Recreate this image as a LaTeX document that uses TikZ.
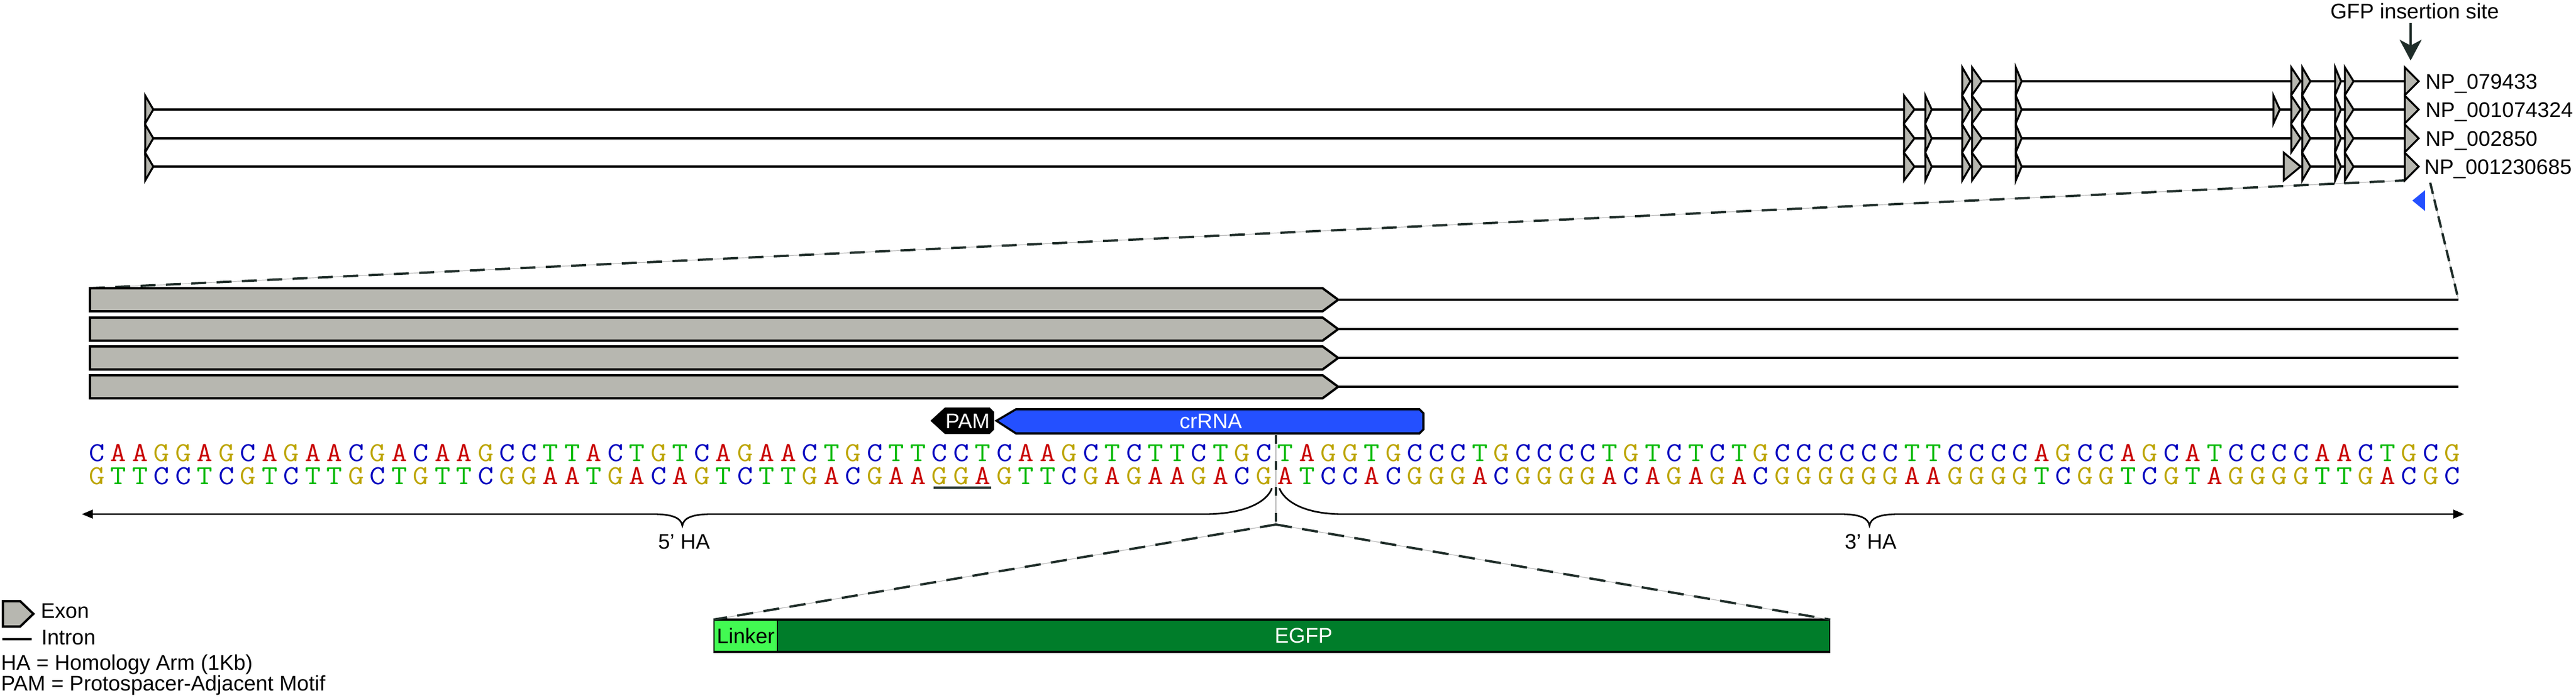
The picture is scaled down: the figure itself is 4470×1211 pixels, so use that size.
\documentclass[tikz,border=0pt]{standalone}
\usepackage{fontspec}
\setmainfont{Liberation Sans}
\usepackage{graphicx}
\usetikzlibrary{arrows.meta}
\definecolor{exongray}{RGB}{183,183,176}
\definecolor{dkline}{RGB}{31,45,41}
\definecolor{crblue}{RGB}{36,80,255}
\definecolor{linkergreen}{RGB}{66,250,82}
\definecolor{egfpgreen}{RGB}{0,125,42}
\definecolor{seqA}{RGB}{200,0,0}
\definecolor{seqC}{RGB}{0,0,190}
\definecolor{seqG}{RGB}{188,164,0}
\definecolor{seqT}{RGB}{0,185,0}
\newcommand{\exontri}[3]{\draw[exon] (#1,#3-24) -- (#2,#3) -- (#1,#3+24) -- cycle;}
\begin{document}
\begin{tikzpicture}[x=0.25pt, y=-0.25pt,
  lbl/.style={font=\fontsize{9.2}{11}\selectfont, inner sep=0pt},
  seq/.style={font=\ttfamily\fontsize{11.9}{12}\selectfont, inner sep=0pt, anchor=base},
  exon/.style={fill=exongray, draw=black, line width=0.85pt},
  intron/.style={draw=black, line width=1pt},
  zl/.style={draw=dkline, line width=1pt, dash pattern=on 6.5pt off 4.5pt,
             preaction={draw=gray!55, line width=0.3pt, solid}},
  zlv/.style={zl, dash pattern=on 3.75pt off 7.5pt},
  brace/.style={draw=black, line width=0.7pt},
  tipL/.style={-{Triangle[length=4.75pt, width=3.75pt]}}]
\useasboundingbox (0,0) rectangle (4470,1211);

% ---------- top gene model ----------
\node[lbl, anchor=base] (gfp) at (4190,32) {GFP insertion site};
\coordinate (gfpstart) at (4183,40);
\coordinate (ins) at (4183,105);
\draw[draw=dkline, line width=1pt, -{Stealth[length=9pt, width=9.5pt, inset=2.5pt]}] (gfpstart) -- (ins);

% zoom lines from gene model to middle section
\coordinate (zlA) at (4173,313);
\coordinate (zlB) at (156,500);
\coordinate (zlC) at (4217,317);
\coordinate (zlD) at (4266,520);
\draw[zl] (zlB) -- (zlA);
\draw[zl, dash pattern=on 5pt off 2.5pt] (zlC) -- (zlD);
\fill[crblue] (4186,348) -- (4208,330) -- (4208,366) -- cycle;

% introns
\draw[intron] (3405,141) -- (4173,141);
\foreach \y in {190,240,289} \draw[intron] (252,\y) -- (4173,\y);

% exons row 1
\foreach \a/\b in {3405/3419,3422/3439,3498/3508,3976/3992,3995/4009,4052/4062,4069/4084,4173/4197}
  {\exontri{\a}{\b}{141}}
% rows 2-4 common
\foreach \y in {190,240,289}{
  \foreach \a/\b in {252/266,3304/3322,3341/3352,3405/3419,3422/3439,3498/3508,3995/4009,4052/4062,4069/4084,4173/4197}
    {\exontri{\a}{\b}{\y}}
}
\exontri{3945}{3956}{190}
\exontri{3976}{3992}{190}
\exontri{3976}{3992}{240}
\exontri{3963}{3992}{289}

\node[lbl, anchor=base west] (np1) at (4208,154) {NP\_079433};
\node[lbl, anchor=base west] (np2) at (4208,203) {NP\_001074324};
\node[lbl, anchor=base west] (np3) at (4208,253) {NP\_002850};
\node[lbl, anchor=base west] (np4) at (4206,302) {NP\_001230685};

% ---------- middle zoom ----------
\foreach \y in {520,571,621,671}{
  \draw[intron] (2322,\y) -- (4266,\y);
  \draw[exon, line width=1pt] (156,\y-20) -- (2295,\y-20) -- (2322,\y) -- (2295,\y+20) -- (156,\y+20) -- cycle;
}

% PAM and crRNA
\draw[fill=black, draw=black, line width=0.5pt] (1616,730) -- (1640,708) -- (1717,708) -- (1724,715) -- (1724,745) -- (1717,752) -- (1640,752) -- cycle;
\node[lbl, anchor=base, text=white] (pam) at (1679,743) {PAM};
\draw[fill=crblue, draw=black, line width=0.9pt] (1729,730) -- (1763,710) -- (2463,710) -- (2470,717) -- (2470,745) -- (2463,752) -- (1763,752) -- cycle;
\node[lbl, anchor=base, text=white] (crrna) at (2101,743) {crRNA};

% sequence
\foreach \ch [count=\i] in {C,A,A,G,G,A,G,C,A,G,A,A,C,G,A,C,A,A,G,C,C,T,T,A,C,T,G,T,C,A,G,A,A,C,T,G,
  C,T,T,C,C,T,C,A,A,G,C,T,C,T,T,C,T,G,C,
  T,A,G,G,T,G,C,C,C,
  T,G,C,C,C,C,T,G,T,C,T,C,T,G,C,C,C,C,C,C,T,T,C,C,C,C,A,G,C,C,A,G,C,A,T,C,C,C,C,A,A,C,T,G,C,G}
  {\node[seq, text=seq\ch] (t\i) at ({168+(\i-1)*37.5},800) {\scalebox{1.12}[1]{\ch}};}
\foreach \ch [count=\i] in {G,T,T,C,C,T,C,G,T,C,T,T,G,C,T,G,T,T,C,G,G,A,A,T,G,A,C,A,G,T,C,T,T,G,A,C,
  G,A,A,G,G,A,G,T,T,C,G,A,G,A,A,G,A,C,G,
  A,T,C,C,A,C,G,G,G,
  A,C,G,G,G,G,A,C,A,G,A,G,A,C,G,G,G,G,G,G,A,A,G,G,G,G,T,C,G,G,T,C,G,T,A,G,G,G,G,T,T,G,A,C,G,C}
  {\node[seq, text=seq\ch] (b\i) at ({168+(\i-1)*37.5},840) {\scalebox{1.12}[1]{\ch}};}
\draw[draw=dkline, line width=1pt] (1620,846) -- (1720,846);

% cut site
\coordinate (cuttop) at (2214,755);
\coordinate (cut) at (2214,910);
\draw[zlv] (cuttop) -- (cut);

% homology arms
\draw[brace, tipL] (2207,847) .. controls (2200,868) and (2165,892) .. (2090,892) -- (1234,892)
   .. controls (1203,892) and (1186,898) .. (1184,912)
   .. controls (1182,898) and (1165,892) .. (1134,892) -- (142,892);
\draw[brace, tipL] (2220,847) .. controls (2228,868) and (2260,892) .. (2330,892) -- (3194,892)
   .. controls (3225,892) and (3242,898) .. (3244,912)
   .. controls (3246,898) and (3263,892) .. (3294,892) -- (4276,892);
\node[lbl, anchor=base] (ha5) at (1187,952) {5’ HA};
\node[lbl, anchor=base] (ha3) at (3246,952) {3’ HA};

% ---------- insert ----------
\node[lbl, fill=linkergreen, draw=black, line width=0.5pt, minimum width=27.5pt, minimum height=13.5pt, anchor=north west] (linker) at (1238,1075) {Linker};
\node[lbl, fill=egfpgreen, draw=black, line width=0.5pt, text=white, minimum width=456.5pt, minimum height=13.5pt, anchor=north west] (egfp) at (1348,1075) {EGFP};
\draw[line width=1.1pt] (linker.north west) -- (egfp.north east);
\draw[line width=1.1pt] (linker.south west) -- (egfp.south east);
\draw[zl, dash pattern=on 7pt off 4.5pt] (cut) -- (linker.north west);
\draw[zl, dash pattern=on 7pt off 4.5pt] (cut) -- (egfp.north east);

% ---------- legend ----------
\draw[exon, line width=1pt] (5,1043) -- (35,1043) -- (58,1065) -- (35,1087) -- (5,1087) -- cycle;
\node[lbl, anchor=base west] (lgexon) at (70,1072) {Exon};
\coordinate (lgi1) at (4,1109);
\coordinate (lgi2) at (55,1109);
\draw[intron] (lgi1) -- (lgi2);
\node[lbl, anchor=base west] (lgintron) at (71,1118) {Intron};
\node[lbl, anchor=base west] (lgha) at (1,1162) {HA = Homology Arm (1Kb)};
\node[lbl, anchor=base west] (lgpam) at (1,1198) {PAM = Protospacer-Adjacent Motif};
\end{tikzpicture}
\end{document}
